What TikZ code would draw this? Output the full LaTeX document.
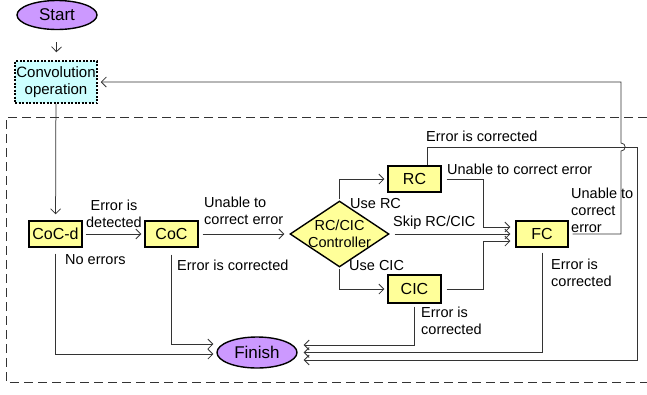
\documentclass[tikz,border=0pt]{standalone}
\usepackage{fontspec}
\setmainfont{Liberation Sans}
\usetikzlibrary{shapes.geometric,arrows.meta}
\definecolor{boxyellow}{HTML}{FFFF99}
\definecolor{termpurple}{HTML}{CC99FF}
\definecolor{convcyan}{HTML}{CCFFFF}

\begin{document}
\begin{tikzpicture}[x=1pt, y=-1pt,
      box/.style={draw, line width=1.4pt, fill=boxyellow, minimum width=53pt,
                  minimum height=26pt, inner sep=0pt, font=\fontsize{16}{18}\selectfont},
      term/.style={ellipse, draw, line width=1.4pt, fill=termpurple, minimum width=80pt,
                  minimum height=29pt, inner sep=0pt, font=\fontsize{17}{19}\selectfont},
      lbl/.style={inner sep=0pt, align=left, font=\fontsize{14.5}{17}\selectfont},
      arr/.style={-{Straight Barb[length=5pt,width=10pt]}, line width=0.75pt,
                  draw=black!80, shorten <=4pt, shorten >=3pt}
    ]
      \useasboundingbox (0,0) rectangle (647,394);
      % dashed frame
      \draw[dash pattern=on 9pt off 5pt, line width=0.75pt, black!80]
        (647,117) -- (6,117) -- (6,382) -- (647,382);

      % Terminals
      \node[term] (start) at (57,15) {Start};
      \node[term, minimum height=31pt] (finish) at (257,352.5) {Finish};
      % Convolution
      \node[draw, dash pattern=on 2pt off 1.5pt, line width=1.5pt, fill=convcyan,
            minimum width=82pt, minimum height=42pt, inner sep=0pt, align=center,
            font=\fontsize{15}{17}\selectfont] (conv) at (56,82) {Convolution\\operation};
      % Checkers
      \node[box] (cocd) at (55.5,234) {CoC-d};
      \node[box] (coc) at (171.5,234) {CoC};
      \node[box] (rc) at (414.5,179) {RC};
      \node[box, minimum height=28pt] (cic) at (414.5,289) {CIC};
      \node[box, minimum width=52pt] (fc) at (542,234) {FC};
      % Controller
      \node[diamond, draw, line width=1.4pt, fill=boxyellow, minimum width=99pt,
            minimum height=66pt, inner sep=0pt,
            label={[lbl, align=center]center:RC/CIC\\Controller}] (ctrl) at (339.5,234) {};

      % Labels
      \node[lbl, align=center] (ldet) at (114,214) {Error is\\detected};
      \node[lbl, anchor=west] (lcocfail) at (204,210.5) {Unable to\\correct error};
      \node[lbl, anchor=west] (lnoerr) at (65,260) {No errors};
      \node[lbl, anchor=west] (lcocok) at (177,265) {Error is corrected};
      \node[lbl, anchor=west] (luserc) at (350,204) {Use RC};
      \node[lbl, anchor=west] (lusecic) at (349,266) {Use CIC};
      \node[lbl, anchor=west] (lskip) at (393,223) {Skip RC/CIC};
      \node[lbl, anchor=west] (lrcok) at (426,136) {Error is corrected};
      \node[lbl, anchor=west] (lrcfail) at (447,169) {Unable to correct error};
      \node[lbl, anchor=west] (lfcfail) at (571,210.5) {Unable to\\correct\\error};
      \node[lbl, anchor=west] (lfcok) at (551,272.5) {Error is\\corrected};
      \node[lbl, anchor=west] (lcicok) at (421,321) {Error is\\corrected};

      % Connectors
      \draw[arr, shorten <=12pt, shorten >=8pt] (start) -- (conv);
      \draw[arr, shorten <=0pt, shorten >=6pt] (conv) -- (cocd);
      \draw[arr, shorten <=3pt] (cocd) -- (coc);
      \draw[arr, shorten >=5pt] (coc) -- (ctrl);
      \draw[arr, shorten <=1pt] (ctrl.north) |- (rc);
      \draw[arr, shorten <=1pt] (ctrl.south) |- (cic);
      \draw[arr, shorten <=5pt, shorten >=5pt] (ctrl) -- (fc);
      \draw[arr, shorten <=5pt, shorten >=5pt] (rc.east) -- ++(42,0) |- ([yshift=7pt]fc.west);
      \draw[arr, shorten <=5pt, shorten >=5pt] (cic.east) -- ++(42,0) |- ([yshift=-7pt]fc.west);
      \draw[arr, shorten <=0pt, shorten >=6pt] ([xshift=12.5pt]rc.north) |- (637,147)
        |- ([yshift=-7.5pt]finish.east);
      \draw[arr] (fc.east) -| (621,151) .. controls (626.5,151) and (626.5,143) .. (621,143)
        |- (conv.east);
      \draw[arr, shorten <=5pt, shorten >=6pt] (fc.south) |- (finish.east);
      \draw[arr, shorten <=3pt, shorten >=6pt] (cic.south) |- ([yshift=7.5pt]finish.east);
      \draw[arr, shorten <=7pt] (coc.south) |- ([yshift=8.5pt]finish.west);
      \draw[arr, shorten <=6pt] (cocd.south) |- ([yshift=-1.5pt]finish.west);
    \end{tikzpicture}
\end{document}
